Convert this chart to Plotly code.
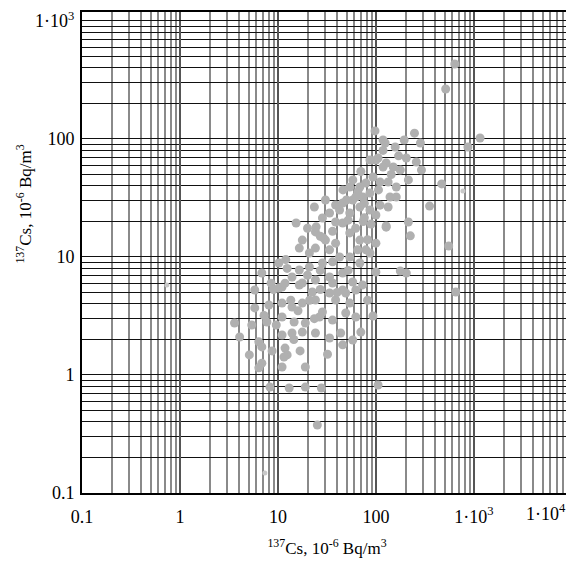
import plotly.graph_objects as go

# 137Cs (x) vs 134Cs (y), 10^-6 Bq/m^3
cs137 = [
    97.7, 247, 194, 118, 157, 284, 204, 258, 105, 86.7, 291, 150, 127,
    124, 99.8, 118, 177, 93.1, 110, 133, 161, 78.9, 68.4, 54.0, 139, 161, 133,
    86.7, 73.5, 65.2, 57.9, 45.7, 38.7, 30.5, 23.5, 33.6, 42.5, 54.0, 68.4, 86.7,
    99.8, 127, 99.8, 78.9, 68.4, 54.0, 45.7, 38.7, 28.4, 24.1, 30.5, 38.7, 33.6,
    24.1, 20.9, 15.3, 16.5, 42.5, 54.0, 68.4, 86.7, 28.4, 20.9, 16.5, 13.9, 10.2,
    6.84, 5.79, 11.0, 17.7, 24.1, 33.6, 45.7, 57.9, 99.8, 177, 45.7, 33.6, 22.4,
    10.2, 16.5, 36.0, 11.0, 13.9, 17.7, 24.1, 28.4, 38.7, 49.1, 54.0, 62.2,
    8.07, 5.79, 3.60, 5.40, 7.71, 11.0, 14.6, 19.0, 26.5, 36.0, 49.1, 62.2, 93.1,
    11.0, 13.9, 17.7, 24.1, 33.6, 43.6, 57.9, 70.0, 4.06, 6.37, 6.84, 11.8, 12.4,
    11.5, 6.84, 6.37, 11.0, 19.0, 8.27, 13.0, 19.0, 27.7, 105, 25.2,
    352, 468, 552, 652, 127, 224, 214, 637, 514, 1153, 867, 204,
    62.2, 50.0, 24.5, 29.0, 12.0, 8.5, 74.0, 82.0,
    17.7, 20.0, 27.0, 36.0, 52.0, 62.0, 76.0, 89.0, 110, 76.0, 58.0, 46.0,
    70.0, 106, 143, 118, 170, 214, 13.5, 16.0, 21.0, 27.0, 40.0, 52.0,
    36.0, 27.0, 20.0, 12.4, 9.0, 7.2, 9.6, 14.5, 32.0, 45.7, 23.5, 16.8,
    8.7, 5.1, 73.0, 82.0, 11.8, 65.0,
]
cs134 = [
    117, 112, 98, 98, 85.5, 92.5, 69, 63.8, 69, 66.4, 54.6, 57.9, 62.6,
    92.5, 66.4, 57.9, 54.6, 47.6, 43.2, 43.2, 39.2, 42.4, 39.2, 39.2, 32.2, 32.2, 26.5,
    34.8, 32.2, 35.6, 30.4, 28.7, 27.6, 30.4, 26.5, 23.6, 25.0, 23.6, 26.5, 25.0,
    22.7, 18.3, 13.1, 11.5, 13.9, 16.0, 19.4, 19.8, 21.4, 16.3, 13.9, 13.1, 11.5,
    11.9, 10.8, 19.4, 11.9, 10.0, 10.0, 8.89, 10.8, 8.89, 8.22, 7.76, 6.77, 8.89,
    7.31, 5.25, 5.57, 6.02, 6.38, 6.77, 7.31, 6.14, 7.46, 7.6, 5.25, 4.95, 5.05,
    5.46, 5.79, 6.02, 4.07, 3.77, 4.07, 4.32, 3.42, 4.32, 4.95, 4.07, 5.25,
    3.92, 3.70, 2.76, 2.65, 2.81, 3.10, 2.81, 2.76, 3.10, 2.92, 3.35, 3.10, 3.16,
    2.18, 2.27, 2.31, 2.27, 2.06, 2.27, 1.98, 2.31, 2.10, 1.91, 1.73, 1.69, 1.48,
    1.42, 1.26, 1.15, 1.17, 1.17, 0.79, 0.776, 0.79, 0.776, 0.822, 0.377,
    27.0, 41.6, 12.4, 5.05, 17.9, 15.1, 19.8, 432, 265, 102, 85.5, 7.3,
    32.2, 30.4, 18.0, 14.5, 9.5, 6.0, 20.0, 14.0,
    13.9, 17.5, 15.0, 16.5, 20.5, 17.5, 21.5, 19.0, 27.5, 28.5, 45.0, 37.0,
    53.0, 37.0, 50.0, 80.0, 72.0, 45.0, 4.3, 3.5, 4.3, 5.3, 5.0, 7.7,
    9.1, 7.7, 7.0, 8.0, 5.3, 3.2, 2.65, 2.0, 1.5, 1.8, 3.0, 1.6,
    1.6, 1.48, 5.8, 4.3, 6.0, 11.5,
]
# faint / small points
faint137 = [0.734, 7.34, 771]
faint134 = [5.79, 0.148, 36.2]

x_major = [0.1, 1, 10, 100, 1000, 10000]
x_labels = ["0.1", "1", "10", "100", "1·10<sup>3</sup>", ""]
x_end_label = "1·10<sup>4</sup>"
y_major = [0.1, 1, 10, 100, 1000]
y_labels = ["0.1", "1", "10", "100", "1·10<sup>3</sup>"]
minor_digits = [2, 3, 4, 5, 6, 7, 8, 9]

x_minor = [d * m for m in x_major[:-1] for d in minor_digits]
y_minor = [d * m for m in y_major for d in minor_digits if d * m < 1300]

font = "Liberation Serif"

fig = go.Figure()
fig.add_trace(go.Scatter(
    x=cs137, y=cs134, mode="markers",
    marker=dict(size=9, color="#b0b0b0", line=dict(width=0)),
    showlegend=False,
))
fig.add_trace(go.Scatter(
    x=faint137, y=faint134, mode="markers",
    marker=dict(size=5, color="#c8c8c8", line=dict(width=0)),
    showlegend=False,
))

# the html page body has an 8px margin, so the figure is made 8px smaller
fig.update_layout(
    width=566, height=559,
    margin=dict(l=74, r=2, t=4, b=74),
    paper_bgcolor="white", plot_bgcolor="white",
    font=dict(family=font, size=18, color="black"),
    xaxis=dict(
        type="log", range=[-1, 4], automargin=False,
        tickmode="array", tickvals=x_major, ticktext=x_labels,
        showgrid=True, gridcolor="#555555", gridwidth=1.5,
        minor=dict(tickmode="array", tickvals=x_minor, showgrid=True,
                   gridcolor="#8a8a8a", gridwidth=1.6),
        showline=True, linecolor="black", linewidth=2, mirror=True,
        ticks="", ticklabelstandoff=6, zeroline=False,
        title=dict(text="<sup>137</sup>Cs, 10<sup>-6</sup> Bq/m<sup>3</sup>",
                   font=dict(size=17), standoff=17),
    ),
    yaxis=dict(
        type="log", range=[-1, 3.076], automargin=False,
        tickmode="array", tickvals=y_major, ticktext=y_labels,
        showgrid=True, gridcolor="#111111", gridwidth=1.4,
        minor=dict(tickmode="array", tickvals=y_minor, showgrid=True,
                   gridcolor="#111111", gridwidth=1.4),
        showline=True, linecolor="black", linewidth=2, mirror=True,
        ticks="", ticklabelstandoff=2, zeroline=False,
    ),
    annotations=[
        dict(
            text="<sup>137</sup>Cs, 10<sup>-6</sup> Bq/m<sup>3</sup>",
            xref="paper", yref="paper", x=-0.118, y=0.6,
            xanchor="center", yanchor="middle", textangle=-90,
            showarrow=False, font=dict(family=font, size=17, color="black"),
        ),
        dict(
            text=x_end_label,
            xref="paper", yref="paper", x=1, y=0,
            xanchor="right", yanchor="top", yshift=-6, xshift=-4,
            showarrow=False, font=dict(family=font, size=18, color="black"),
        ),
    ],
)

fig.write_html("out.html")
